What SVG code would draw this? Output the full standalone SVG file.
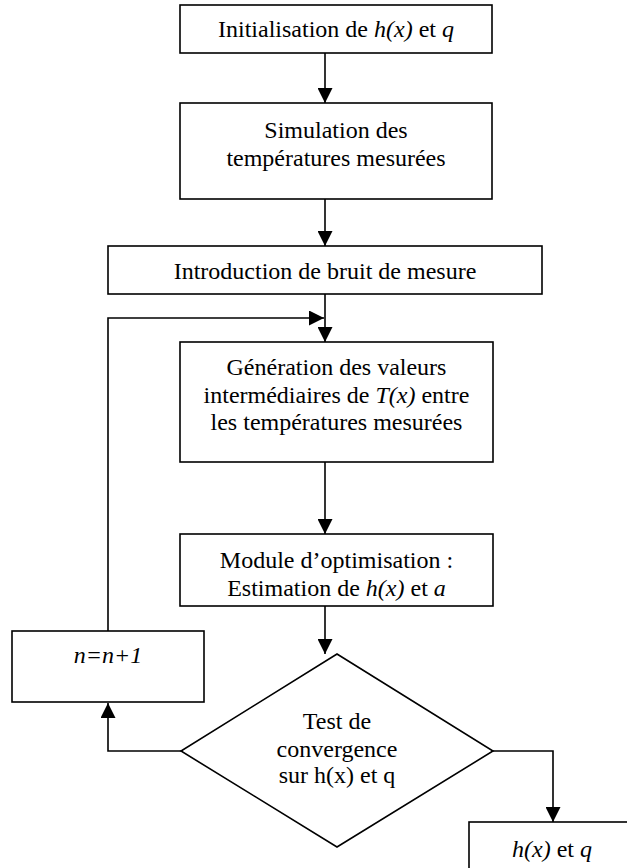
<svg xmlns="http://www.w3.org/2000/svg" width="627" height="868" viewBox="0 0 627 868">
<style>
.n{fill:#fff;stroke:#000;stroke-width:1.6}
.t{font-family:'Liberation Serif','Times New Roman',Times,serif;font-size:24px;fill:#000;text-anchor:middle}
.i{font-style:italic}
.c{fill:none;stroke:#000;stroke-width:1.6}
</style>
<defs>
<marker id="ah" markerUnits="userSpaceOnUse" markerWidth="15" markerHeight="15" refX="15" refY="7.5" orient="auto" viewBox="0 0 15 15">
<path d="M0,0 L15,7.5 L0,15 z" fill="#000"/>
</marker>
</defs>
<rect width="627" height="868" fill="#fff"/>
<g id="connectors">
<path class="c" d="M325,53 V103" marker-end="url(#ah)"/>
<path class="c" d="M325,199 V246" marker-end="url(#ah)"/>
<path class="c" d="M325,294 V342" marker-end="url(#ah)"/>
<path class="c" d="M108,631 V318 H324" marker-end="url(#ah)"/>
<path class="c" d="M325,462 V534" marker-end="url(#ah)"/>
<path class="c" d="M325,606 V654" marker-end="url(#ah)"/>
<path class="c" d="M181,751 H108 V703" marker-end="url(#ah)"/>
<path class="c" d="M493,751 H553 V822" marker-end="url(#ah)"/>
</g>
<g id="init">
<rect class="n" x="180" y="5" width="312" height="48"/>
<text class="t" x="336" y="37" font-family="Liberation Serif, serif">Initialisation de <tspan class="i">h(x)</tspan> et <tspan class="i">q</tspan></text>
</g>
<g id="simulation">
<rect class="n" x="180" y="103" width="312" height="96"/>
<text class="t" x="336" y="138">Simulation des</text>
<text class="t" x="336" y="166">températures mesurées</text>
</g>
<g id="bruit">
<rect class="n" x="108" y="246" width="434" height="48"/>
<text class="t" x="325" y="279">Introduction de bruit de mesure</text>
</g>
<g id="generation">
<rect class="n" x="180" y="342" width="313" height="120"/>
<text class="t" x="336.5" y="375">Génération des valeurs</text>
<text class="t" x="336.5" y="403">intermédiaires de <tspan class="i">T(x)</tspan> entre</text>
<text class="t" x="336.5" y="430">les températures mesurées</text>
</g>
<g id="optimisation">
<rect class="n" x="180" y="534" width="313" height="72"/>
<text class="t" x="336.5" y="568">Module d’optimisation :</text>
<text class="t" x="336.5" y="596">Estimation de <tspan class="i">h(x)</tspan> et <tspan class="i">a</tspan></text>
</g>
<g id="increment">
<rect class="n" x="12" y="631" width="192" height="71"/>
<text class="t i" x="108" y="663">n=n+1</text>
</g>
<g id="test">
<polygon class="n" points="337,654 493,751 337,847 181,751"/>
<text class="t" x="337" y="729">Test de</text>
<text class="t" x="337" y="757">convergence</text>
<text class="t" x="337" y="783">sur h(x) et q</text>
</g>
<g id="resultat">
<rect class="n" x="469" y="822" width="170" height="60"/>
<text class="t" x="552" y="857"><tspan class="i">h(x)</tspan> et <tspan class="i">q</tspan></text>
</g>
</svg>
